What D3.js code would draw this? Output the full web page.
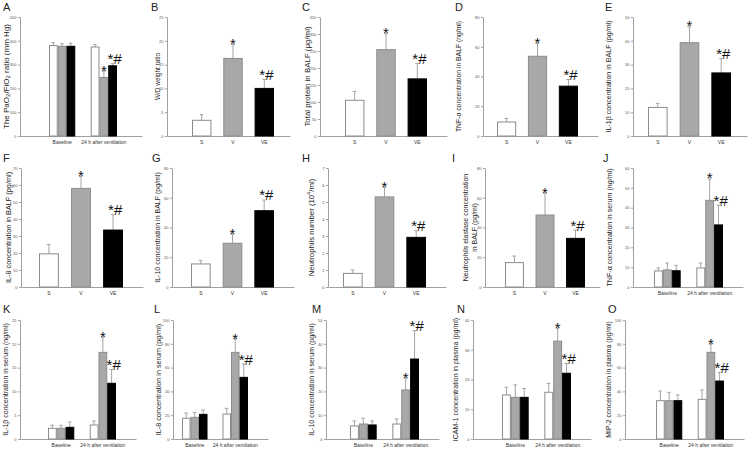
<!DOCTYPE html>
<html><head><meta charset="utf-8">
<script src="https://cdn.jsdelivr.net/npm/d3@7"></script>
<style>body{margin:0;background:#fff}svg{display:block}</style>
</head><body>
<script>
// ---------- data ----------
const groups = ["Baseline", "24 h after ventilation"];
const treatments = ["S", "V", "VE"];

const aMeans = [[380, 377, 377], [374, 246, 295]];
const aErrs  = [[12, 11, 13], [10, 26, 9]];
const aTicks = [0, 100, 200, 300, 400, 500];

const bMeans = [3.3, 16.3, 10.0];
const bErrs  = [1.2, 2.9, 1.9];
const bTicks = [0, 5, 10, 15, 20, 25];

const cMeans = [105, 254, 168];
const cErrs  = [26, 47, 45];
const cTicks = [0, 50, 100, 150, 200, 250, 300, 350];

const dMeans = [9.4, 53.6, 33.5];
const dErrs  = [2.4, 8.5, 4.5];
const dTicks = [0, 20, 40, 60, 80];

const eMeans = [12.0, 39.2, 26.5];
const eErrs  = [1.7, 6.6, 6.0];
const eTicks = [0, 10, 20, 30, 40, 50];

const fMeans = [19.5, 58, 33.5];
const fErrs  = [5.5, 7, 9.1];
const fTicks = [0, 10, 20, 30, 40, 50, 60, 70];

const gMeans = [15.5, 29.4, 51.3];
const gErrs  = [2.4, 6.2, 7.2];
const gTicks = [0, 20, 40, 60, 80];

const hMeans = [0.8, 5.3, 2.92];
const hErrs  = [0.2, 0.56, 0.39];
const hTicks = [0, 1, 2, 3, 4, 5, 6, 7];

const iMeans = [16.4, 48.4, 32.7];
const iErrs  = [4.4, 14.6, 5.6];
const iTicks = [0, 20, 40, 60, 80];

const jMeans = [[8.1, 8.6, 8.2], [9.6, 43.7, 31.3]];
const jErrs  = [[1.5, 3.5, 2.7], [2.5, 10.8, 10.0]];
const jTicks = [0, 10, 20, 30, 40, 50, 60];

const kMeans = [[2.24, 2.24, 2.45], [2.94, 18.2, 11.7]];
const kErrs  = [[0.66, 0.63, 1.12], [0.84, 3.2, 2.9]];
const kTicks = [0, 5, 10, 15, 20, 25];

const lMeans = [[17.4, 18.2, 20.7], [21.0, 72.8, 51.8]];
const lErrs  = [[4.4, 4.2, 3.7], [4.8, 11.2, 11.2]];
const lTicks = [0, 20, 40, 60, 80, 100];

const mMeans = [[5.5, 6.3, 5.9], [6.3, 20.6, 33.6]];
const mErrs  = [[2.1, 2.4, 1.7], [2.1, 4.9, 11.9]];
const mTicks = [0, 10, 20, 30, 40, 50];

const nMeans = [[14.8, 14.0, 14.0], [15.7, 32.9, 22.1]];
const nErrs  = [[2.6, 4.2, 3.0], [3.0, 4.3, 3.3]];
const nTicks = [0, 10, 20, 30, 40];

const oMeans = [[32.2, 32.2, 32.2], [33.3, 72.8, 48.7]];
const oErrs  = [[8.1, 7.0, 4.8], [7.9, 6.8, 7.3]];
const oTicks = [0, 20, 40, 60, 80, 100];

// significance marks for V and VE
const sigSingle = ["", "*", "*#"];
const sigGrouped = [["", "", ""], ["", "*", "*#"]];

// ---------- layout ----------
const rows = [{top: 17, bottom: 136, letterY: 11}, {top: 168, bottom: 287, letterY: 162}, {top: 320, bottom: 439, letterY: 313}];

const panels = [
  {L:"A", row:0, grouped:true, means:aMeans, errs:aErrs, ticks:aTicks, ax:20, ae:142, b0:49, b1:117, lx:3, tx:6, tf:8,
   title:[["The PaO",0],["2",1],["/FiO",0],["2",1],[" ratio (mm Hg)",0]]},
  {L:"B", row:0, means:bMeans, errs:bErrs, ticks:bTicks, ax:167, ae:290, b0:192, b1:274, lx:151, tx:157.5, tf:6.4, title:[["W/D weight ratio",0]]},
  {L:"C", row:0, means:cMeans, errs:cErrs, ticks:cTicks, ax:320, ae:447, b0:345, b1:427, lx:302, tx:307, tf:7.9, title:[["Total protein in BALF (\u03bcg/ml)",0]]},
  {L:"D", row:0, means:dMeans, errs:dErrs, ticks:dTicks, ax:483, ae:598, b0:497, b1:578, lx:455, tx:458, tf:6.8, title:[["TNF-\u03b1 concentration in BALF (ng/ml)",0]]},
  {L:"E", row:0, means:eMeans, errs:eErrs, ticks:eTicks, ax:633, ae:747, b0:648, b1:731, lx:605, tx:608, tf:7.1, title:[["IL-1\u03b2 concentration in BALF (pg/ml)",0]]},
  {L:"F", row:1, means:fMeans, errs:fErrs, ticks:fTicks, ax:21, ae:143, b0:39, b1:123, lx:3, tx:8, tf:7.3, title:[["IL-8 concentration in BALF (pg/ml)",0]]},
  {L:"G", row:1, means:gMeans, errs:gErrs, ticks:gTicks, ax:172, ae:294, b0:191, b1:274, lx:152, tx:157, tf:7, title:[["IL-10 concentration in BALF (pg/ml)",0]]},
  {L:"H", row:1, means:hMeans, errs:hErrs, ticks:hTicks, ax:328, ae:446, b0:343, b1:426, lx:302, tx:311, tf:7.8, title:[["Neutrophils number (10",0],["4",2],["/ml)",0]]},
  {L:"I", row:1, means:iMeans, errs:iErrs, ticks:iTicks, ax:485, ae:600, b0:505, b1:585, lx:452, tx:465.5, tf:7, title:[["Neutrophils elastase concentration",0]], title2:"in BALF (pg/ml)"},
  {L:"J", row:1, grouped:true, means:jMeans, errs:jErrs, ticks:jTicks, ax:633, ae:743, b0:654, b1:723, lx:603, tx:609.5, tf:7.1, title:[["TNF-\u03b1 concentration in serum (ng/ml)",0]]},
  {L:"K", row:2, grouped:true, means:kMeans, errs:kErrs, ticks:kTicks, ax:20, ae:136, b0:48, b1:116, lx:3, tx:5.5, tf:7, title:[["IL-1\u03b2 concentration in serum (ng/ml)",0]]},
  {L:"L", row:2, grouped:true, means:lMeans, errs:lErrs, ticks:lTicks, ax:173, ae:268, b0:182, b1:248, lx:154, tx:158, tf:7.2, title:[["IL-8 concentration in serum (pg/ml)",0]]},
  {L:"M", row:2, grouped:true, means:mMeans, errs:mErrs, ticks:mTicks, ax:326, ae:439, b0:350, b1:419, lx:312, tx:311, tf:7, title:[["IL-10 concentration in serum (pg/ml)",0]]},
  {L:"N", row:2, grouped:true, means:nMeans, errs:nErrs, ticks:nTicks, ax:473, ae:591, b0:502, b1:571, lx:457, tx:455, tf:7, title:[["ICAM-1 concentration in plasma (pg/ml)",0]]},
  {L:"O", row:2, grouped:true, means:oMeans, errs:oErrs, ticks:oTicks, ax:625, ae:744, b0:656, b1:724, lx:608, tx:608, tf:6.9, title:[["MIP-2 concentration in plasma (pg/ml)",0]]}
];

const FONT = "'Liberation Sans', Arial, Helvetica, sans-serif";
const fillOf = {S: "#ffffff", V: "#a8a8a8", VE: "#000000"};
const strokeOf = {S: "#8c8c8c", V: "#8c8c8c", VE: "#000000"};
const axisColor = "#a0a0a0";
const errColor = "#9a9a9a";

const svg = d3.select("body").append("svg").attr("width", 754).attr("height", 450)
  .style("font-family", FONT);

panels.forEach(p => {
  const r = rows[p.row];
  const g = svg.append("g");
  const y = d3.scaleLinear().domain([0, d3.max(p.ticks)]).range([r.bottom, r.top]);

  // y axis
  const ya = g.append("g").attr("transform", `translate(${p.ax},0)`)
    .call(d3.axisLeft(y).tickValues(p.ticks).tickSize(2).tickSizeOuter(0).tickPadding(1.5).tickFormat(d3.format("d")));
  ya.select(".domain").attr("stroke", axisColor);
  ya.selectAll(".tick line").attr("stroke", axisColor);
  ya.selectAll(".tick text").attr("fill", "#555").style("font-size", "4px").style("font-family", FONT);

  // x axis baseline
  const xl = d3.scaleLinear().domain([0, 1]).range([p.ax, p.ae]);
  const xa = g.append("g").attr("transform", `translate(0,${r.bottom})`)
    .call(d3.axisBottom(xl).tickValues([]).tickSizeOuter(0));
  xa.select(".domain").attr("stroke", axisColor);

  // bars
  let bars = [];
  let xCat;
  if (p.grouped) {
    xCat = d3.scaleBand().domain(groups).range([p.b0, p.b1]).paddingInner(0.37).paddingOuter(0);
    const xIn = d3.scaleBand().domain(treatments).range([0, xCat.bandwidth()]).padding(0);
    groups.forEach((gr, gi) => treatments.forEach((t, ti) => {
      bars.push({t, x: xCat(gr) + xIn(t), w: xIn.bandwidth(), v: p.means[gi][ti], e: p.errs[gi][ti], s: sigGrouped[gi][ti]});
    }));
  } else {
    xCat = d3.scaleBand().domain(treatments).range([p.b0, p.b1]).paddingInner(0.38).paddingOuter(0);
    treatments.forEach((t, ti) => {
      bars.push({t, x: xCat(t), w: xCat.bandwidth(), v: p.means[ti], e: p.errs[ti], s: sigSingle[ti]});
    });
  }

  // error bars (upward only)
  bars.forEach(b => {
    const cx = b.x + b.w / 2;
    g.append("line").attr("x1", cx).attr("x2", cx).attr("y1", y(b.v)).attr("y2", y(b.v + b.e))
      .attr("stroke", errColor).attr("stroke-width", 0.9);
    g.append("line").attr("x1", cx - 2).attr("x2", cx + 1.5).attr("y1", y(b.v + b.e)).attr("y2", y(b.v + b.e))
      .attr("stroke", errColor).attr("stroke-width", 0.9);
  });
  g.selectAll("rect.bar").data(bars).join("rect").attr("class", "bar")
    .attr("x", d => d.x + 0.5).attr("width", d => d.w - 1)
    .attr("y", d => y(d.v)).attr("height", d => y(0) - y(d.v))
    .attr("fill", d => fillOf[d.t]).attr("stroke", d => strokeOf[d.t]).attr("stroke-width", 1);

  // significance marks
  bars.filter(b => b.s).forEach(b => {
    const cx = b.x + b.w / 2;
    const capY = y(b.v + b.e);
    const t = g.append("text").text(b.s).attr("fill", "#111").style("font-size", "15px");
    if (b.s === "*") t.attr("x", cx).attr("y", capY + 4.5).attr("text-anchor", "middle");
    else t.attr("x", cx - 5).attr("y", capY + 0.5).attr("text-anchor", "start");
  });

  // category labels
  const xc = g.append("g").attr("transform", `translate(0,${r.bottom})`)
    .call(d3.axisBottom(xCat).tickSize(0).tickPadding(4));
  xc.select(".domain").remove();
  xc.selectAll(".tick text").attr("fill", "#333").style("font-size", "5px").style("font-family", FONT);

  // y title
  const midY = (r.top + r.bottom) / 2;
  const tt = g.append("text").attr("transform", `translate(${p.tx + 2.6},${midY}) rotate(-90)`)
    .attr("text-anchor", "middle").attr("fill", "#222").style("font-size", p.tf + "px");
  let shift = 0;
  p.title.forEach(([s, k]) => {
    const ts = tt.append("tspan").text(s);
    if (k === 1) { ts.attr("dy", 1.6 - shift).style("font-size", (p.tf * 0.75) + "px"); shift = 1.6; }
    else if (k === 2) { ts.attr("dy", -2.6 - shift).style("font-size", (p.tf * 0.7) + "px"); shift = -2.6; }
    else if (shift !== 0) { ts.attr("dy", -shift); shift = 0; }
  });
  if (p.title2) {
    g.append("text").attr("transform", `translate(${p.tx + 2.6 + 9},${midY}) rotate(-90)`)
      .attr("text-anchor", "middle").attr("fill", "#222").style("font-size", p.tf + "px").text(p.title2);
  }

  // panel letter
  g.append("text").attr("x", p.lx).attr("y", r.letterY).text(p.L)
    .attr("fill", "#222").style("font-size", "11px");
});
</script>
</body></html>
